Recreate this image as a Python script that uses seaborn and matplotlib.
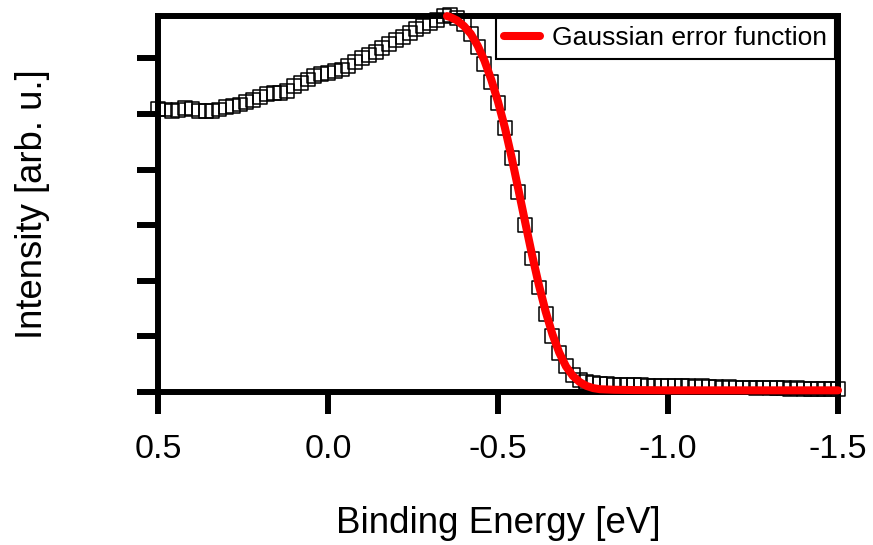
import numpy as np
import pandas as pd
import matplotlib
matplotlib.use("Agg")
import matplotlib.pyplot as plt
import seaborn as sns

# ---- data ----
energy = np.round(np.linspace(0.5, -1.5, 101), 2)
intensity = [
    5.09, 5.08, 5.06, 5.07, 5.10, 5.09, 5.06, 5.05, 5.05, 5.08,
    5.12, 5.14, 5.17, 5.21, 5.25, 5.31, 5.36, 5.37, 5.38, 5.42,
    5.50, 5.56, 5.62, 5.68, 5.72, 5.74, 5.77, 5.80, 5.86, 5.93,
    6.00, 6.06, 6.12, 6.18, 6.25, 6.33, 6.39, 6.45, 6.52, 6.58,
    6.63, 6.69, 6.76, 6.78, 6.72, 6.62, 6.44, 6.20, 5.90, 5.57,
    5.20, 4.74, 4.20, 3.60, 3.00, 2.40, 1.88, 1.40, 1.00, 0.70,
    0.47, 0.31, 0.22, 0.18, 0.16, 0.15, 0.14, 0.13, 0.13, 0.12,
    0.12, 0.12, 0.11, 0.11, 0.11, 0.10, 0.11, 0.10, 0.10, 0.09,
    0.10, 0.09, 0.09, 0.08, 0.09, 0.08, 0.08, 0.08, 0.07, 0.08,
    0.07, 0.07, 0.07, 0.06, 0.07, 0.06, 0.06, 0.06, 0.05, 0.06,
    0.05,
]
fit_energy = [-0.35, -0.36, -0.38, -0.40, -0.42, -0.44, -0.46, -0.48, -0.50,
              -0.52, -0.54, -0.56, -0.58, -0.60, -0.62, -0.64, -0.66, -0.68,
              -0.70, -0.72, -0.74, -0.76, -0.78, -0.80, -0.84, -0.90, -1.00,
              -1.10, -1.20, -1.30, -1.40, -1.50]
fit_intensity = [6.76, 6.74, 6.68, 6.58, 6.44, 6.23, 5.96, 5.62, 5.22,
                 4.76, 4.22, 3.64, 3.05, 2.47, 1.93, 1.45, 1.04, 0.71,
                 0.46, 0.29, 0.18, 0.11, 0.07, 0.05, 0.04, 0.035, 0.03,
                 0.03, 0.03, 0.03, 0.03, 0.03]
x_ticks = [0.5, 0.0, -0.5, -1.0, -1.5]
x_tick_labels = ["0.5", "0.0", "-0.5", "-1.0", "-1.5"]
y_ticks = [0, 1, 2, 3, 4, 5, 6]
fit_label = "Gaussian error function"
x_label = "Binding Energy [eV]"
y_label = "Intensity [arb. u.]"

sns.set_style("ticks")
plt.rcParams["font.family"] = ["Liberation Sans", "DejaVu Sans"]
plt.rcParams["axes.unicode_minus"] = False

df = pd.DataFrame({"energy": energy, "intensity": intensity})
fit_df = pd.DataFrame({"energy": fit_energy, "intensity": fit_intensity})

fig = plt.figure(figsize=(8.73, 5.45), dpi=100)
W, H = 873, 545
ax = fig.add_axes([158 / W, 1 - 392 / H, 680 / W, 376.5 / H])

sns.scatterplot(data=df, x="energy", y="intensity", marker="s", s=100,
                facecolors="none", edgecolors="black", linewidths=1.1,
                clip_on=False, zorder=3, ax=ax, legend=False)
ax.collections[0].set_facecolor("none")
ax.collections[0].set_edgecolor("black")

sns.lineplot(data=fit_df, x="energy", y="intensity", color="#ff0000",
             linewidth=5.8, sort=False, solid_capstyle="round",
             clip_on=False, zorder=4, label=fit_label, ax=ax)

ax.set_xlim(0.5, -1.5)
ax.set_ylim(0, 6.77)
ax.set_xticks(x_ticks)
ax.set_xticklabels(x_tick_labels)
ax.set_yticks(y_ticks)
ax.tick_params(axis="y", labelleft=False, direction="out", length=15,
               width=4.3, color="black")
ax.tick_params(axis="x", direction="out", length=16, width=4.3,
               color="black", labelsize=24.5, pad=14.5, labelcolor="black")
for sp in ax.spines.values():
    sp.set_visible(True)
    sp.set_linewidth(4.3)
    sp.set_color("black")

ax.set_xlabel(x_label, fontsize=26.5, color="black", va="top")
ax.xaxis.set_label_coords(0.5, -0.303)
ax.set_ylabel(y_label, fontsize=26.3, color="black")
ax.yaxis.set_label_coords(-0.159, 0.5)

leg = ax.legend(loc="upper right", bbox_to_anchor=(1 - 3 / 680, 1 - 2.5 / 376.5),
                borderaxespad=0, frameon=True, fancybox=False,
                edgecolor="black", framealpha=1, fontsize=19,
                handlelength=1.35, handletextpad=0.45, borderpad=0.32)
leg.get_frame().set_linewidth(1.5)
for t in leg.get_texts():
    t.set_color("black")

fig.savefig("out.png", dpi=100, facecolor="white")
